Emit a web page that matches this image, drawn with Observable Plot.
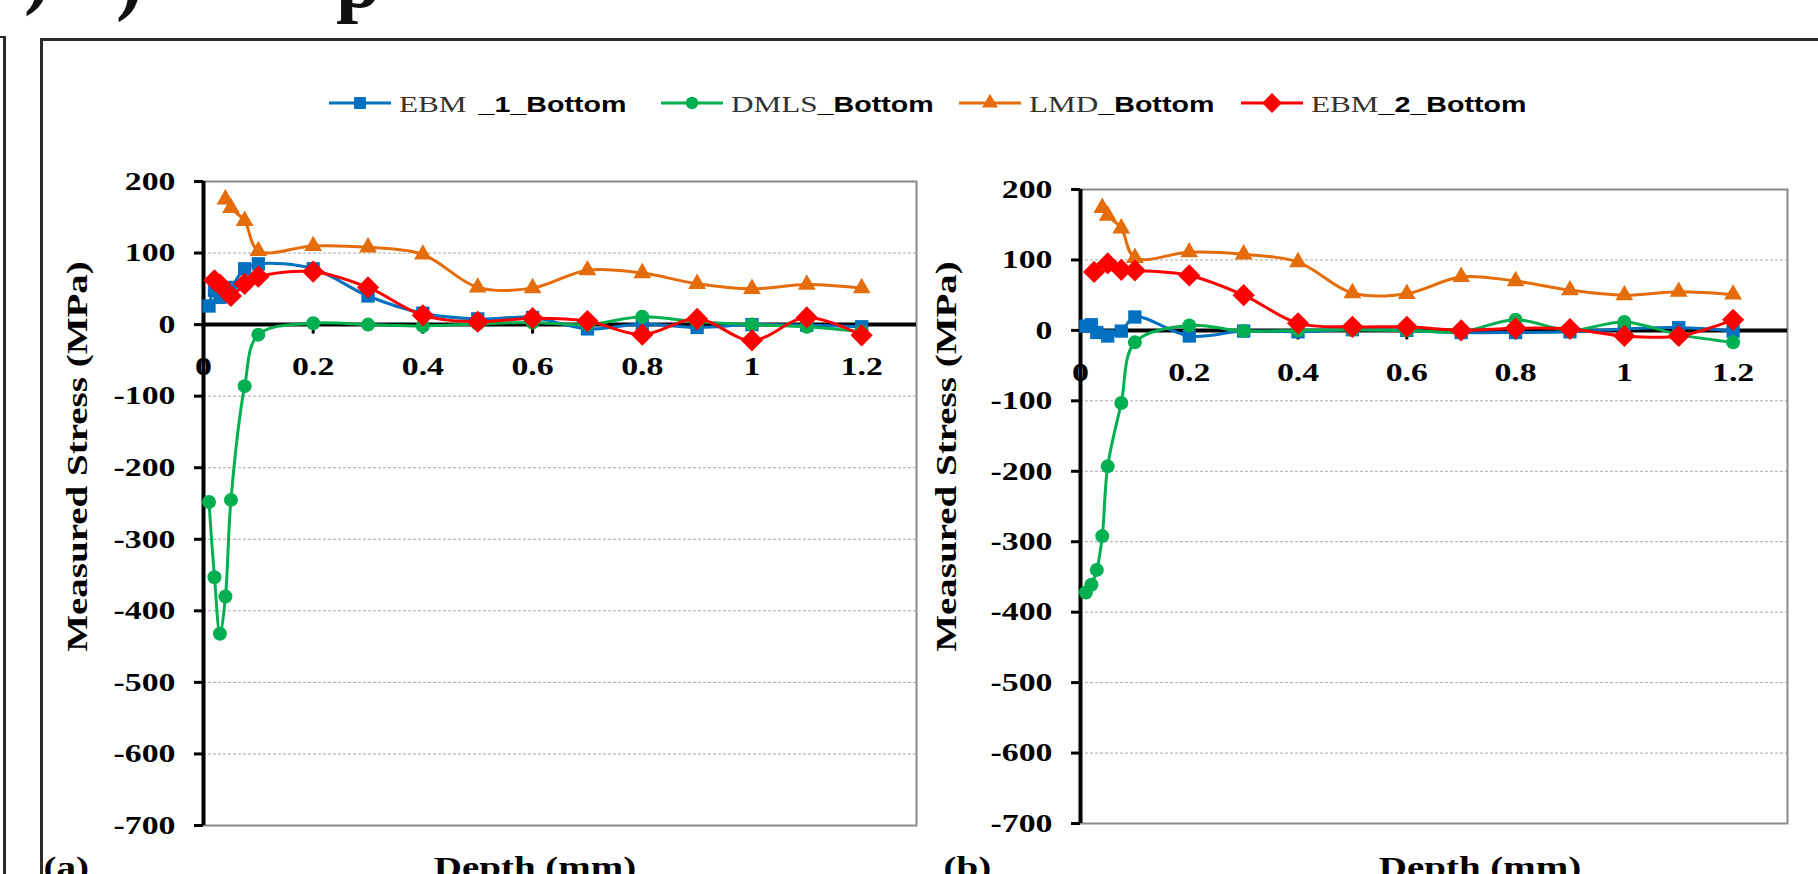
<!DOCTYPE html>
<html><head><meta charset="utf-8">
<script src="https://cdn.jsdelivr.net/npm/d3@7"></script>
<script src="https://cdn.jsdelivr.net/npm/@observablehq/plot@0.6"></script>
<style>
html,body{margin:0;padding:0;background:#fff;overflow:hidden}
#wrap{position:relative;width:1818px;height:874px;overflow:hidden;background:#fff}
#wrap > svg{position:absolute;top:0;overflow:visible}
.frag{position:absolute;font-family:'Liberation Serif','Times New Roman',serif;font-weight:bold;font-size:80px;line-height:1;color:#111}
</style></head><body><div id="wrap"></div>
<script>
// ---------- data ----------
const seriesNames = ["EBM _1_Bottom", "DMLS_Bottom", "LMD_Bottom", "EBM_2_Bottom"];
const seriesColors = ["#0070C0", "#00B050", "#E46C0A", "#FF0000"];
const seriesSymbols = ["square", "circle", "triangle", "diamond2"];
const seriesRadius = [7.5, 7, 6.6, 10];

const xTicks = [0, 0.2, 0.4, 0.6, 0.8, 1, 1.2];
const yTicks = [-700, -600, -500, -400, -300, -200, -100, 0, 100, 200];
const yLabel = "Measured Stress (MPa)";
const xLabel = "Depth (mm)";
const panelTags = ["(a)", "(b)"];

// panel (a)
const a_ebm1_depth = [0.01, 0.02, 0.03, 0.05, 0.075, 0.1, 0.2, 0.3, 0.4, 0.5, 0.6, 0.7, 0.8, 0.9, 1, 1.1, 1.2];
const a_ebm1_stress = [26, 48, 38, 52, 78, 85, 78, 40, 16, 8, 10, -6, 1, -4, 0, -1, -3];
const a_dmls_depth = [0.01, 0.02, 0.03, 0.04, 0.05, 0.075, 0.1, 0.2, 0.3, 0.4, 0.5, 0.6, 0.7, 0.8, 0.9, 1, 1.1, 1.2];
const a_dmls_stress = [-248, -353, -432, -380, -245, -86, -14, 2, 0, -2, 1, 3, 0, 11, 4, 0, -3, -10];
const a_lmd_depth = [0.04, 0.05, 0.075, 0.1, 0.2, 0.3, 0.4, 0.5, 0.6, 0.7, 0.8, 0.9, 1, 1.1, 1.2];
const a_lmd_stress = [175, 163, 145, 103, 110, 108, 98, 52, 51, 76, 72, 57, 50, 56, 51];
const a_ebm2_depth = [0.02, 0.03, 0.05, 0.075, 0.1, 0.2, 0.3, 0.4, 0.5, 0.6, 0.7, 0.8, 0.9, 1, 1.1, 1.2];
const a_ebm2_stress = [62, 56, 40, 57, 67, 74, 52, 13, 4, 9, 5, -14, 8, -22, 10, -15];

// panel (b)
const b_ebm1_depth = [0.01, 0.02, 0.03, 0.05, 0.075, 0.1, 0.2, 0.3, 0.4, 0.5, 0.6, 0.7, 0.8, 0.9, 1, 1.1, 1.2];
const b_ebm1_stress = [6, 8, -3, -8, -1, 19, -8, -1, -2, 1, 0, -3, -3, -2, 2, 4, -1];
const b_dmls_depth = [0.01, 0.02, 0.03, 0.04, 0.05, 0.075, 0.1, 0.2, 0.3, 0.4, 0.5, 0.6, 0.7, 0.8, 0.9, 1, 1.1, 1.2];
const b_dmls_stress = [-372, -361, -340, -292, -193, -103, -17, 7, -1, 0, 1, 0, -2, 15, 0, 12, -6, -17];
const b_lmd_depth = [0.04, 0.05, 0.075, 0.1, 0.2, 0.3, 0.4, 0.5, 0.6, 0.7, 0.8, 0.9, 1, 1.1, 1.2];
const b_lmd_stress = [174, 163, 145, 103, 111, 108, 97, 53, 52, 76, 70, 57, 50, 55, 51];
const b_ebm2_depth = [0.025, 0.05, 0.075, 0.1, 0.2, 0.3, 0.4, 0.5, 0.6, 0.7, 0.8, 0.9, 1, 1.1, 1.2];
const b_ebm2_stress = [83, 95, 86, 85, 78, 50, 10, 5, 5, 0, 3, 2, -8, -8, 15];

// ---------- build ----------
const SERIF = "'Liberation Serif','Times New Roman',serif";
const SANS = "'Liberation Sans',Arial,sans-serif";
const STRETCH = 1.3;

function rows(depths, stresses) { return depths.map((d, i) => ({depth: d, stress: stresses[i]})); }
const panelA = [rows(a_ebm1_depth, a_ebm1_stress), rows(a_dmls_depth, a_dmls_stress), rows(a_lmd_depth, a_lmd_stress), rows(a_ebm2_depth, a_ebm2_stress)];
const panelB = [rows(b_ebm1_depth, b_ebm1_stress), rows(b_dmls_depth, b_dmls_stress), rows(b_lmd_depth, b_lmd_stress), rows(b_ebm2_depth, b_ebm2_stress)];

const tickDown = {draw(ctx) { ctx.moveTo(0, 0); ctx.lineTo(0, 9); }};

function panel(series, L) {
  const seriesMarks = series.flatMap((data, i) => [
    Plot.line(data, {x: "depth", y: "stress", stroke: seriesColors[i], strokeWidth: 3, curve: "catmull-rom"}),
    Plot.dot(data, {x: "depth", y: "stress", symbol: seriesSymbols[i], fill: seriesColors[i], r: seriesRadius[i]})
  ]);
  const yDom = d3.extent(yTicks);
  return Plot.plot({
    width: L.width, height: L.height,
    marginLeft: L.left, marginRight: L.right, marginTop: L.top, marginBottom: L.bottom,
    x: {domain: [0, 1.3], axis: null},
    y: {domain: yDom},
    style: {fontFamily: SERIF, background: "transparent", overflow: "visible", color: "#000"},
    marks: [
      Plot.gridY(yTicks.filter(d => d !== 0 && d !== yDom[0] && d !== yDom[1]), {stroke: "#a8a8a8", strokeOpacity: 1, strokeWidth: 1, strokeDasharray: "3,2"}),
      Plot.frame({stroke: "#8a8a8a", strokeWidth: 2}),
      Plot.ruleY([0], {stroke: "#000", strokeWidth: 4}),
      Plot.ruleX([0], {stroke: "#000", strokeWidth: 4}),
      Plot.axisY(yTicks, {tickSize: 9, tickPadding: 19, strokeWidth: 3, stroke: "#000", fill: "#000", fontSize: 26, fontWeight: "bold", tickFormat: d => String(d), label: null}),
      Plot.dot(xTicks, {x: d => d, y: () => 0, symbol: tickDown, stroke: "#000", strokeWidth: 3, r: 4}),
      Plot.text(xTicks, {x: d => d, y: () => 0, text: d => String(d), dy: 42, fontSize: 26, fontWeight: "bold", fill: "#000"}),
      Plot.text([yLabel], {frameAnchor: "left", textAnchor: "middle", text: d => d, rotate: -90, dx: L.ylx, dy: L.yly, fontSize: 30, fontWeight: "bold", fill: "#000"}),
      Plot.text([xLabel], {frameAnchor: "bottom", text: d => d, dx: L.xlx, dy: L.xly, fontSize: 30, fontWeight: "bold", fill: "#000"}),
      Plot.text([L.tag], {frameAnchor: "bottom-left", textAnchor: "start", text: d => d, dx: L.tagx, dy: L.xly, fontSize: 30, fontWeight: "bold", fill: "#000"}),
      ...seriesMarks
    ]
  });
}

function stretch(root, k) {
  root.querySelectorAll("text").forEach(t => {
    const tr = t.getAttribute("transform") || "";
    if (tr.includes("rotate")) {
      t.setAttribute("transform", tr + ` scale(${k},1)`);
      return;
    }
    const len = t.getComputedTextLength();
    if (len > 0) { t.setAttribute("textLength", len * k); t.setAttribute("lengthAdjust", "spacingAndGlyphs"); }
  });
}

const wrap = document.getElementById("wrap");

// outer figure frame and cut-off fragments of the text above the figure
wrap.insertAdjacentHTML("beforeend",
  '<div style="position:absolute;left:40px;top:38px;width:1800px;height:900px;border-left:3px solid #2a2a2a;border-top:3px solid #2a2a2a"></div>' +
  '<div style="position:absolute;left:-2px;top:36px;width:5px;height:900px;border-right:3px solid #2a2a2a;border-top:2px solid #2a2a2a"></div>' +
  '<span class="frag" style="left:24px;top:-68px">)</span>' +
  '<span class="frag" style="left:116px;top:-62px">)</span>' +
  '<span class="frag" style="left:336px;top:-60px">p</span>');

const svgA = panel(panelA, {width: 940, height: 900, left: 203, right: 24, top: 181, bottom: 75,
  ylx: -126, yly: -47, xlx: -25, xly: 51, tag: panelTags[0], tagx: -160});
svgA.style.left = "0px";
wrap.appendChild(svgA);
stretch(svgA, STRETCH);

const svgB = panel(panelB, {width: 878, height: 900, left: 140, right: 31, top: 189, bottom: 77,
  ylx: -134, yly: -50, xlx: 46, xly: 53, tag: panelTags[1], tagx: -137});
svgB.style.left = "940px";
wrap.appendChild(svgB);
stretch(svgB, STRETCH);

// legend
const legendStart = [329, 661, 959, 1241];
const leg = d3.select(wrap).append("svg").attr("width", 1818).attr("height", 140).style("left", "0px");
seriesNames.forEach((name, i) => {
  const x0 = legendStart[i], y0 = 103;
  leg.append("line").attr("x1", x0).attr("x2", x0 + 62).attr("y1", y0).attr("y2", y0)
    .attr("stroke", seriesColors[i]).attr("stroke-width", 3);
  const sym = {square: d3.symbolSquare, circle: d3.symbolCircle, triangle: d3.symbolTriangle, diamond2: d3.symbolDiamond2}[seriesSymbols[i]];
  leg.append("path").attr("transform", `translate(${x0 + 31},${y0})`)
    .attr("d", d3.symbol(sym, Math.PI * seriesRadius[i] * seriesRadius[i] * 0.8)()).attr("fill", seriesColors[i]);
  const cut = name.indexOf("_");
  const p1 = name.slice(0, cut).trim(), gap = name.slice(0, cut).endsWith(" ") ? 12 : 0, p2 = name.slice(cut);
  const t1 = leg.append("text").attr("x", x0 + 70).attr("y", 112).attr("font-family", SERIF).attr("font-size", 24).attr("fill", "#333").text(p1);
  const l1 = t1.node().getComputedTextLength() * STRETCH;
  t1.attr("textLength", l1).attr("lengthAdjust", "spacingAndGlyphs");
  const t2 = leg.append("text").attr("x", x0 + 70 + l1 + gap).attr("y", 112).attr("font-family", SANS).attr("font-weight", "bold").attr("font-size", 22).attr("fill", "#000").text(p2);
  const l2 = t2.node().getComputedTextLength() * STRETCH;
  t2.attr("textLength", l2).attr("lengthAdjust", "spacingAndGlyphs");
});
</script></body></html>
